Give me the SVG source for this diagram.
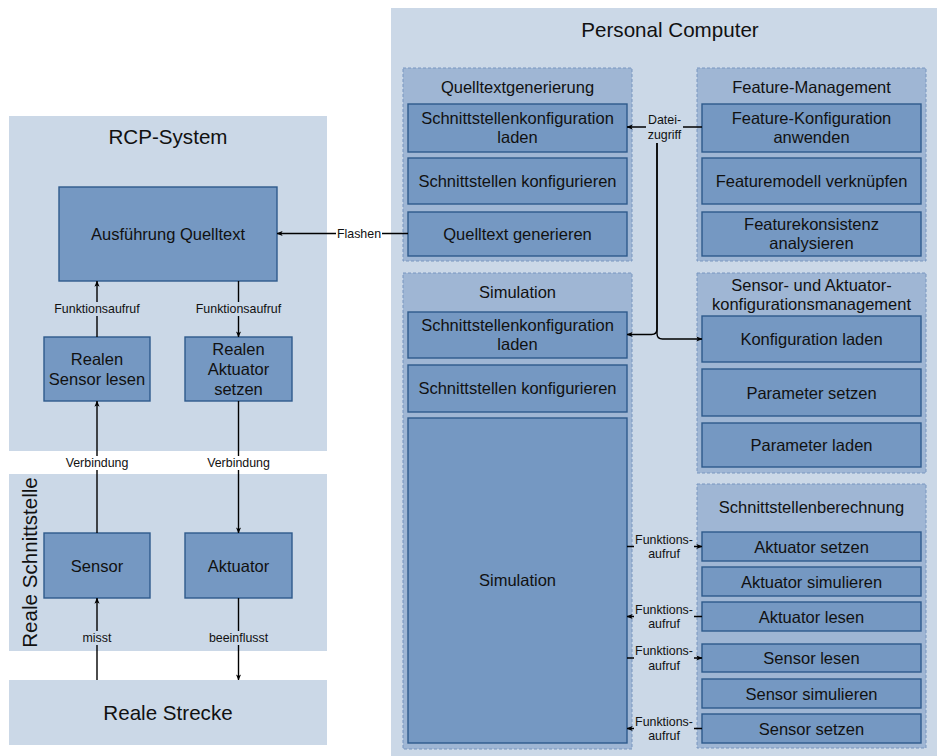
<svg xmlns="http://www.w3.org/2000/svg" width="937" height="756" viewBox="0 0 937 756">
  <defs>
    <style>
      text { font-family: "Liberation Sans", Arial, sans-serif; fill: #111; text-anchor: middle; dominant-baseline: central; }
      .panel { fill: #cbd8e7; }
      .grp { fill: #9fb6d4; stroke: #7896c0; stroke-width: 1; stroke-dasharray: 3 2; }
      .box { fill: #7598c2; stroke: #2e5a8c; stroke-width: 1.4; }
      .big { font-size: 20.6px; }
      .mid { font-size: 16.5px; }
      .small { font-size: 12.4px; }
      .edge { fill: none; stroke: #000; stroke-width: 1.4; }
      .arr { marker-end: url(#arrow); }
      .bgw { fill: #fff; }
      .bgp { fill: #cbd8e7; }
    </style>
    <marker id="arrow" viewBox="0 0 8 8" refX="7.5" refY="4" markerWidth="6" markerHeight="6" markerUnits="userSpaceOnUse" orient="auto">
      <path d="M0,0.6 L8,4 L0,7.4 L2,4 Z" fill="#000"/>
    </marker>
  </defs>

  <!-- containers -->
  <g id="rcp-system">
    <rect class="panel" x="9" y="116" width="318" height="335"/>
    <text class="big" x="168" y="136">RCP-System</text>
  </g>
  <g id="reale-schnittstelle">
    <rect class="panel" x="9" y="474" width="318" height="177"/>
    <text class="big" transform="translate(29 562.5) rotate(-90)">Reale Schnittstelle</text>
  </g>
  <g id="reale-strecke">
    <rect class="panel" x="9" y="680" width="318" height="65"/>
    <text class="big" x="168" y="712">Reale Strecke</text>
  </g>
  <g id="personal-computer">
    <rect class="panel" x="391" y="8" width="550" height="752"/>
    <text class="big" x="670" y="29">Personal Computer</text>
  </g>

  <!-- RCP nodes -->
  <g id="ausfuehrung-quelltext">
    <rect class="box" x="59" y="187" width="218" height="94"/>
    <text class="mid" x="168" y="234">Ausführung Quelltext</text>
  </g>
  <g id="realen-sensor-lesen">
    <rect class="box" x="44" y="337" width="106" height="64"/>
    <text class="mid" x="97" y="359">Realen</text>
    <text class="mid" x="97" y="379">Sensor lesen</text>
  </g>
  <g id="realen-aktuator-setzen">
    <rect class="box" x="185" y="337" width="107" height="64"/>
    <text class="mid" x="238.5" y="349">Realen</text>
    <text class="mid" x="238.5" y="369">Aktuator</text>
    <text class="mid" x="238.5" y="389">setzen</text>
  </g>
  <g id="sensor">
    <rect class="box" x="44" y="533" width="106" height="65"/>
    <text class="mid" x="97" y="565.5">Sensor</text>
  </g>
  <g id="aktuator">
    <rect class="box" x="185" y="533" width="107" height="65"/>
    <text class="mid" x="238.5" y="565.5">Aktuator</text>
  </g>

  <!-- Quelltextgenerierung -->
  <g id="quelltextgenerierung">
    <rect class="grp" x="403" y="68" width="229" height="193"/>
    <text class="mid" x="517.5" y="87">Quelltextgenerierung</text>
  </g>
  <g id="qg-schnittstellenkonfiguration-laden">
    <rect class="box" x="408" y="104" width="219" height="48"/>
    <text class="mid" x="517.5" y="118">Schnittstellenkonfiguration</text>
    <text class="mid" x="517.5" y="137">laden</text>
  </g>
  <g id="qg-schnittstellen-konfigurieren">
    <rect class="box" x="408" y="158" width="219" height="46"/>
    <text class="mid" x="517.5" y="181">Schnittstellen konfigurieren</text>
  </g>
  <g id="quelltext-generieren">
    <rect class="box" x="408" y="212" width="219" height="44"/>
    <text class="mid" x="517.5" y="233.5">Quelltext generieren</text>
  </g>

  <!-- Feature-Management -->
  <g id="feature-management">
    <rect class="grp" x="697" y="68" width="229" height="193"/>
    <text class="mid" x="811.5" y="87">Feature-Management</text>
  </g>
  <g id="feature-konfiguration-anwenden">
    <rect class="box" x="702" y="104" width="219" height="48"/>
    <text class="mid" x="811.5" y="118">Feature-Konfiguration</text>
    <text class="mid" x="811.5" y="137">anwenden</text>
  </g>
  <g id="featuremodell-verknuepfen">
    <rect class="box" x="702" y="158" width="219" height="46"/>
    <text class="mid" x="811.5" y="181">Featuremodell verknüpfen</text>
  </g>
  <g id="featurekonsistenz-analysieren">
    <rect class="box" x="702" y="212" width="219" height="44"/>
    <text class="mid" x="811.5" y="224">Featurekonsistenz</text>
    <text class="mid" x="811.5" y="243">analysieren</text>
  </g>

  <!-- Simulation -->
  <g id="simulation-group">
    <rect class="grp" x="403" y="273" width="229" height="476"/>
    <text class="mid" x="517.5" y="292">Simulation</text>
  </g>
  <g id="sim-schnittstellenkonfiguration-laden">
    <rect class="box" x="408" y="312" width="219" height="46"/>
    <text class="mid" x="517.5" y="325">Schnittstellenkonfiguration</text>
    <text class="mid" x="517.5" y="344">laden</text>
  </g>
  <g id="sim-schnittstellen-konfigurieren">
    <rect class="box" x="408" y="365" width="219" height="47"/>
    <text class="mid" x="517.5" y="387.5">Schnittstellen konfigurieren</text>
  </g>
  <g id="simulation">
    <rect class="box" x="408" y="418" width="219" height="325"/>
    <text class="mid" x="517.5" y="580">Simulation</text>
  </g>

  <!-- Sensor- und Aktuatorkonfigurationsmanagement -->
  <g id="konfigurationsmanagement">
    <rect class="grp" x="697" y="273" width="229" height="200"/>
    <text class="mid" x="811.5" y="285">Sensor- und Aktuator-</text>
    <text class="mid" x="811.5" y="304">konfigurationsmanagement</text>
  </g>
  <g id="konfiguration-laden">
    <rect class="box" x="702" y="316" width="219" height="46"/>
    <text class="mid" x="811.5" y="339">Konfiguration laden</text>
  </g>
  <g id="parameter-setzen">
    <rect class="box" x="702" y="369" width="219" height="47"/>
    <text class="mid" x="811.5" y="392.5">Parameter setzen</text>
  </g>
  <g id="parameter-laden">
    <rect class="box" x="702" y="423" width="219" height="44"/>
    <text class="mid" x="811.5" y="444.5">Parameter laden</text>
  </g>

  <!-- Schnittstellenberechnung -->
  <g id="schnittstellenberechnung">
    <rect class="grp" x="697" y="484" width="229" height="264"/>
    <text class="mid" x="811.5" y="507">Schnittstellenberechnung</text>
  </g>
  <g id="aktuator-setzen">
    <rect class="box" x="702" y="532" width="219" height="29"/>
    <text class="mid" x="811.5" y="546.5">Aktuator setzen</text>
  </g>
  <g id="aktuator-simulieren">
    <rect class="box" x="702" y="567" width="219" height="29"/>
    <text class="mid" x="811.5" y="581.5">Aktuator simulieren</text>
  </g>
  <g id="aktuator-lesen">
    <rect class="box" x="702" y="602" width="219" height="29"/>
    <text class="mid" x="811.5" y="616.5">Aktuator lesen</text>
  </g>
  <g id="sensor-lesen">
    <rect class="box" x="702" y="644" width="219" height="28"/>
    <text class="mid" x="811.5" y="658">Sensor lesen</text>
  </g>
  <g id="sensor-simulieren">
    <rect class="box" x="702" y="679" width="219" height="29"/>
    <text class="mid" x="811.5" y="693.5">Sensor simulieren</text>
  </g>
  <g id="sensor-setzen">
    <rect class="box" x="702" y="714" width="219" height="29"/>
    <text class="mid" x="811.5" y="728.5">Sensor setzen</text>
  </g>

  <!-- connectors -->
  <g id="connectors">
    <path class="edge arr" d="M408 233.5 H277"/>
    <path class="edge arr" d="M97 337 V281"/>
    <path class="edge arr" d="M238.5 281 V337"/>
    <path class="edge arr" d="M97 533 V401"/>
    <path class="edge arr" d="M238.5 401 V533"/>
    <path class="edge arr" d="M97 680 V598"/>
    <path class="edge arr" d="M238.5 598 V680"/>
    <path class="edge arr" d="M702 127 H627"/>
    <path class="edge arr" d="M657 143 V329 Q657 334.5 651.5 334.5 H627"/>
    <path class="edge arr" d="M657 143 V333.5 Q657 339 662.5 339 H702"/>
    <path class="edge arr" d="M627 546.5 H702"/>
    <path class="edge arr" d="M702 616.5 H627"/>
    <path class="edge arr" d="M627 658 H702"/>
    <path class="edge arr" d="M702 728.5 H627"/>

    <!-- edge labels -->
    <rect class="bgw" x="336" y="226" width="46" height="15"/>
    <text class="small" x="359" y="233.5">Flashen</text>
    <rect class="bgp" x="53" y="302" width="88" height="14"/>
    <text class="small" x="97" y="309">Funktionsaufruf</text>
    <rect class="bgp" x="194.5" y="302" width="88" height="14"/>
    <text class="small" x="238.5" y="309">Funktionsaufruf</text>
    <rect class="bgw" x="63" y="456" width="68" height="14"/>
    <text class="small" x="97" y="463">Verbindung</text>
    <rect class="bgw" x="204.5" y="456" width="68" height="14"/>
    <text class="small" x="238.5" y="463">Verbindung</text>
    <rect class="bgp" x="80" y="631" width="34" height="14"/>
    <text class="small" x="97" y="638">misst</text>
    <rect class="bgp" x="206.5" y="631" width="64" height="14"/>
    <text class="small" x="238.5" y="638">beeinflusst</text>
    <rect class="bgp" x="646" y="112" width="37" height="31"/>
    <text class="small" x="664.5" y="119.5">Datei-</text>
    <text class="small" x="664.5" y="135">zugriff</text>
    <rect class="bgp" x="634" y="532" width="60" height="29"/>
    <text class="small" x="664" y="539.5">Funktions-</text>
    <text class="small" x="664" y="554">aufruf</text>
    <rect class="bgp" x="634" y="602" width="60" height="29"/>
    <text class="small" x="664" y="609.5">Funktions-</text>
    <text class="small" x="664" y="624">aufruf</text>
    <rect class="bgp" x="634" y="643.5" width="60" height="29"/>
    <text class="small" x="664" y="651">Funktions-</text>
    <text class="small" x="664" y="665.5">aufruf</text>
    <rect class="bgp" x="634" y="714" width="60" height="29"/>
    <text class="small" x="664" y="721.5">Funktions-</text>
    <text class="small" x="664" y="736">aufruf</text>
  </g>
</svg>
